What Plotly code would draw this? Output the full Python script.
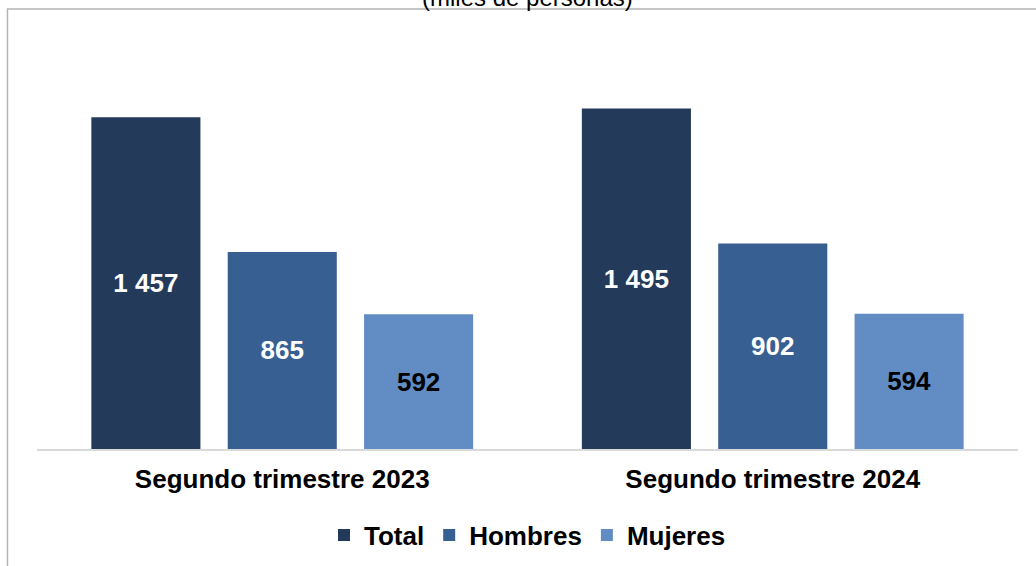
import plotly.graph_objects as go

categories = ["Segundo trimestre 2023", "Segundo trimestre 2024"]
total = [1457, 1495]
hombres = [865, 902]
mujeres = [592, 594]
label_total = ["1 457", "1 495"]
label_hombres = ["865", "902"]
label_mujeres = ["592", "594"]

FONT = "Liberation Sans, Arial, sans-serif"

fig = go.Figure()
for name, vals, labels, color, tcolor in [
    ("Total", total, label_total, "#243a5a", "white"),
    ("Hombres", hombres, label_hombres, "#375f91", "white"),
    ("Mujeres", mujeres, label_mujeres, "#628dc4", "black"),
]:
    fig.add_trace(go.Bar(
        x=categories, y=vals, name=name, marker=dict(color=color, line=dict(width=0)),
        text=labels, textposition="inside", insidetextanchor="middle",
        textfont=dict(family=FONT, size=26, color=tcolor, weight="bold"),
        textangle=0, hoverinfo="skip",
    ))

fig.update_layout(
    width=1036, height=566,
    margin=dict(l=36.5, r=17.5, t=39, b=117, autoexpand=False),
    paper_bgcolor="white", plot_bgcolor="white",
    barmode="group", bargap=0.166, bargroupgap=0.2,
    uniformtext=dict(mode=False),
    showlegend=True,
    legend=dict(orientation="h", x=0.5, xanchor="center", y=-0.21, yanchor="middle",
                font=dict(family=FONT, size=26, color="black", weight="bold"),
                itemwidth=30, traceorder="normal"),
    xaxis=dict(showgrid=False, showline=True, linecolor="#d9d9d9", linewidth=2,
               tickfont=dict(family=FONT, size=26, color="black", weight="bold"),
               ticks="", ticklabelstandoff=6),
    yaxis=dict(range=[0, 1800], visible=False, showgrid=False),
    annotations=[dict(text="(miles de personas)", xref="paper", yref="paper",
                      x=0.4995, y=1.101, xanchor="center", yanchor="middle",
                      showarrow=False, font=dict(family=FONT, size=24, color="black"))],
    shapes=[dict(type="rect", xref="paper", yref="paper", x0=-0.0301, x1=1.2,
                 y0=-0.5, y1=1.0732, line=dict(color="#b4b4b4", width=1.5),
                 fillcolor="rgba(0,0,0,0)", layer="below")],
)

fig.write_html("out.html", config={"displayModeBar": False},
               post_script="document.body.style.margin='0';")
